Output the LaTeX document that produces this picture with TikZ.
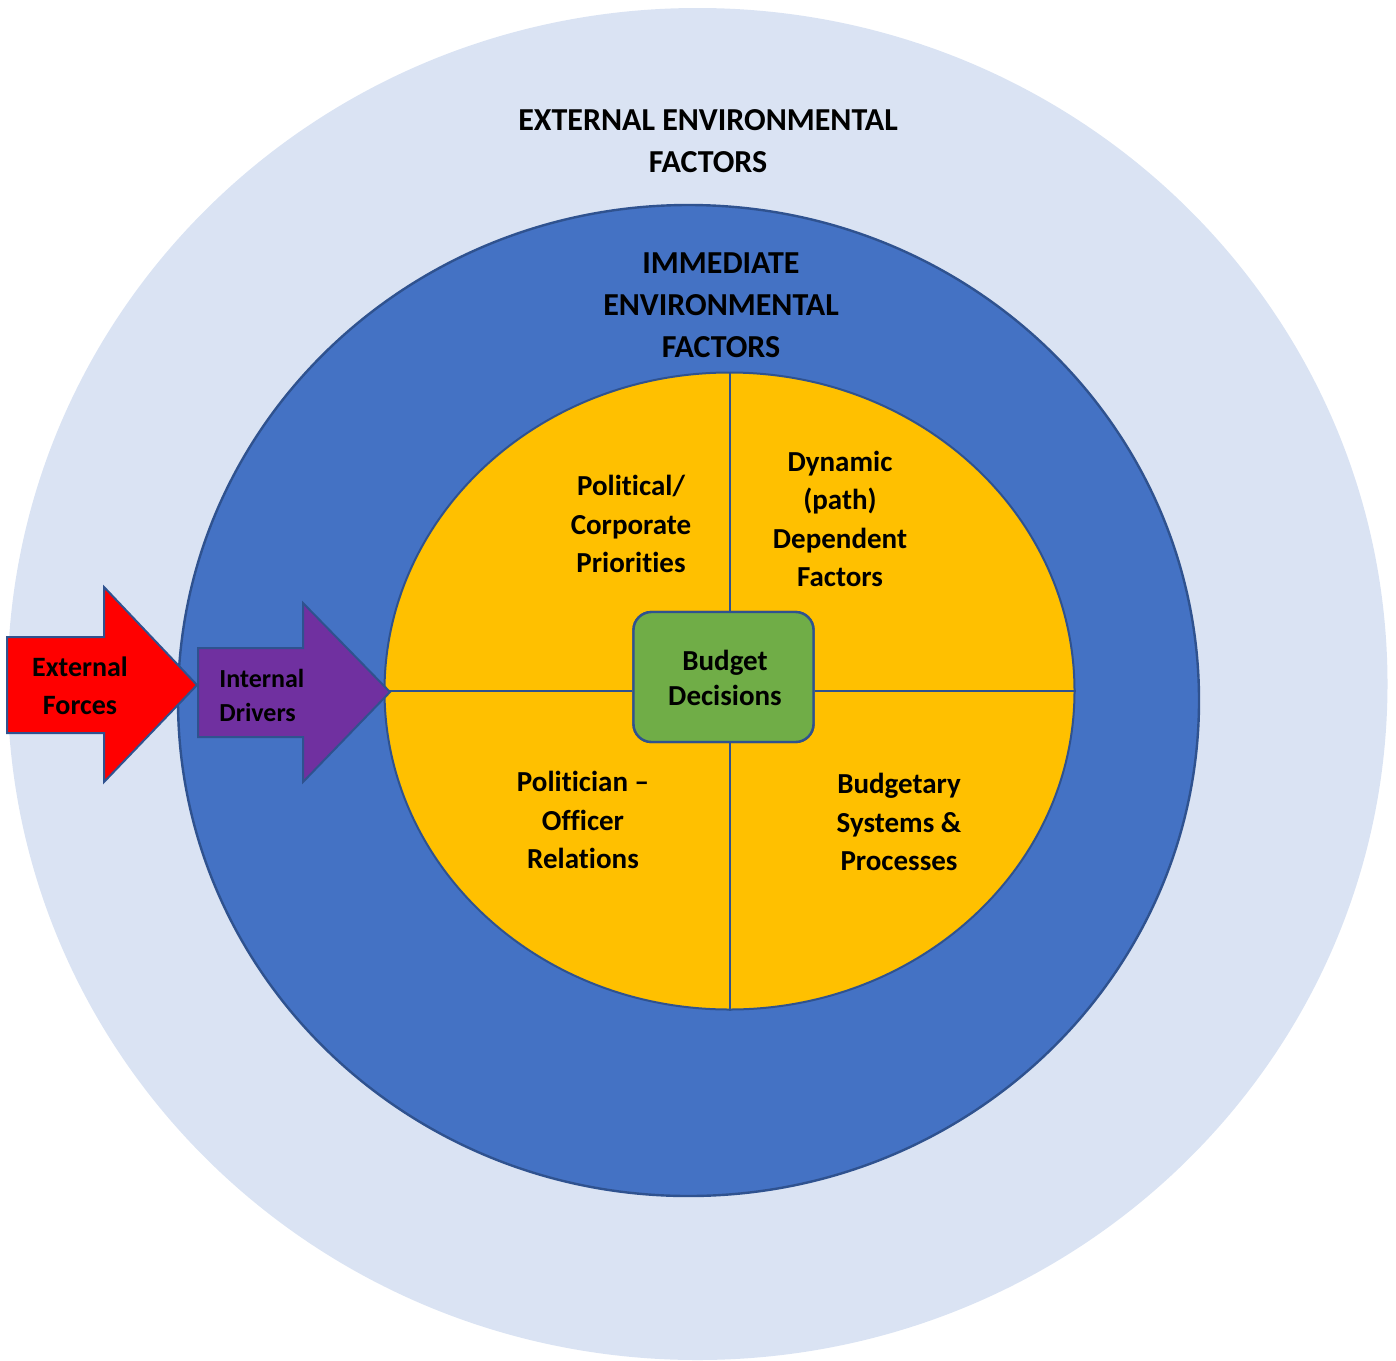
\documentclass[tikz,border=0pt]{standalone}
\usepackage{fontspec}
\setmainfont{Carlito}[Ligatures=NoCommon]
\usetikzlibrary{shapes.geometric}
\definecolor{outerbg}{HTML}{DAE3F3}
\definecolor{ringblue}{HTML}{4472C4}
\definecolor{edgeblue}{HTML}{2F528F}
\definecolor{coreyellow}{HTML}{FFC000}
\definecolor{decisiongreen}{HTML}{70AD47}
\definecolor{forcered}{HTML}{FF0000}
\definecolor{driverpurple}{HTML}{7030A0}
\begin{document}
\begin{tikzpicture}[x=0.5pt,y=-0.5pt,
  lbl/.style={inner sep=0pt, align=center, text=black, font=\bfseries\fontsize{14.5}{19.3}\selectfont},
  titlelbl/.style={lbl, font=\bfseries\fontsize{16}{21}\selectfont},
  divider/.style={draw=edgeblue, line width=1pt},
  blockarrow/.style={draw=edgeblue, line width=1pt, line join=miter}
]
\useasboundingbox (0,0) rectangle (1396,1360);

% outer ring: external environment
\fill[outerbg] (697.5,684) ellipse [x radius=345pt, y radius=338pt];
% middle ring: immediate environment
\filldraw[fill=ringblue, draw=edgeblue, line width=1.2pt] (688.5,700.5) ellipse [x radius=255.25pt, y radius=247.75pt];

% core with its four quadrants
\node[ellipse, fill=coreyellow, draw=edgeblue, line width=1pt, inner sep=0pt,
      minimum width=345pt, minimum height=318.5pt] (core) at (729.5,691) {};
\node[rectangle, rounded corners=9pt, fill=decisiongreen, draw=edgeblue, line width=1.2pt,
      minimum width=90pt, minimum height=65pt, inner sep=0pt] (budget) at (723.5,677) {};
\draw[divider] (core.north) -- (core.north |- budget.north);
\draw[divider] (core.south) -- (core.south |- budget.south);
\draw[divider] (core.west) -- (budget.west |- core.west);
\draw[divider] (core.east) -- (budget.east |- core.east);
\node[rectangle, rounded corners=9pt, fill=decisiongreen, draw=edgeblue, line width=1.2pt,
      minimum width=90pt, minimum height=65pt, inner sep=0pt] at (budget) {};
\node[lbl, font=\bfseries\fontsize{14.5}{17.5}\selectfont] (budgettxt) at (725,678) {Budget\\Decisions};

% block arrows on the left
\coordinate (redtip) at (197,685);
\draw[blockarrow, fill=forcered] (7,637) -- (104,637) -- (104,587) -- (redtip) -- (104,782) -- (104,733) -- (7,733) -- cycle;
\coordinate (purpletip) at (390,692);
\draw[blockarrow, fill=driverpurple] (198,648) -- (303,648) -- (303,603) -- (purpletip) -- (303,782) -- (303,737) -- (198,737) -- cycle;

% labels
\node[titlelbl] (exttitle) at (708,141) {EXTERNAL ENVIRONMENTAL\\FACTORS};
\node[titlelbl] (immtitle) at (721,305) {IMMEDIATE\\ENVIRONMENTAL\\FACTORS};
\node[lbl] (political) at (631,524) {Political/\\Corporate\\Priorities};
\node[lbl] (dynamic) at (840,519) {Dynamic\\(path)\\Dependent\\Factors};
\node[lbl] (relations) at (583,820) {Politician --\\Officer\\Relations};
\node[lbl] (systems) at (899,822) {Budgetary\\Systems \&\\Processes};
\node[lbl, font=\bfseries\fontsize{14}{19}\selectfont] (forces) at (80,686) {External\\Forces};
\node[lbl, align=left, anchor=west, font=\bfseries\fontsize{13}{17}\selectfont] (drivers) at (219,695) {Internal\\Drivers};
\end{tikzpicture}
\end{document}
